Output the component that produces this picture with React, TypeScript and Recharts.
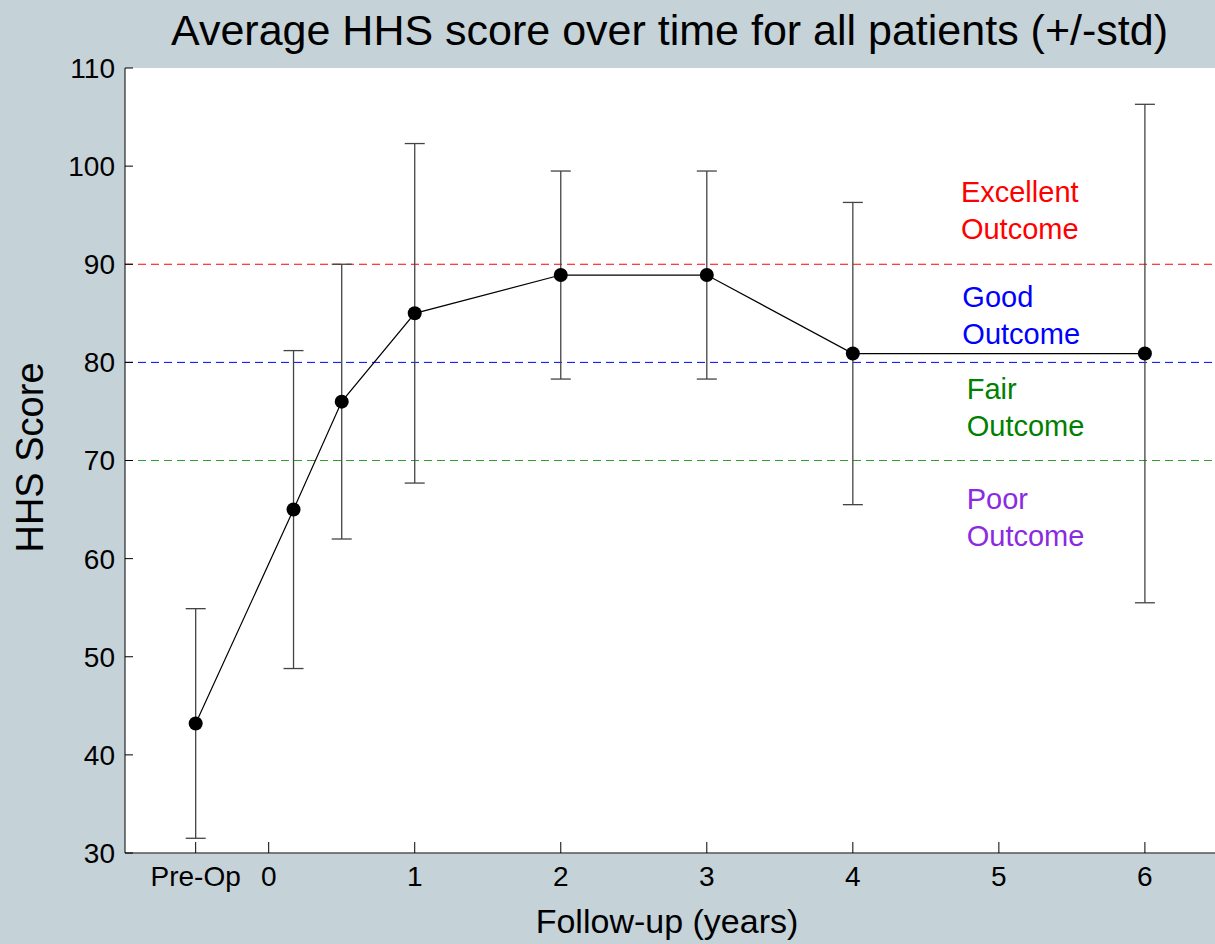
import {
  CartesianGrid,
  ErrorBar,
  Line,
  LineChart,
  ReferenceDot,
  ReferenceLine,
  XAxis,
  YAxis,
} from 'recharts';

// follow-up time in years (Pre-Op drawn at -0.5)
const followUp = [-0.5, 0.17, 0.5, 1, 2, 3, 4, 6];
const meanScore = [43.2, 65.0, 76.0, 85.0, 88.9, 88.9, 80.9, 80.9];
const stdScore = [11.7, 16.2, 14.0, 17.3, 10.6, 10.6, 15.4, 25.4];

const xTicks = [-0.5, 0, 1, 2, 3, 4, 5, 6];
const yTicks = [30, 40, 50, 60, 70, 80, 90, 100, 110];

const thresholds = [90, 80, 70];
const outcomeNames = ['Excellent', 'Good', 'Fair', 'Poor'];

const data = followUp.map((x, i) => ({
  x,
  mean: meanScore[i],
  std: stdScore[i],
}));

const FONT = '"Liberation Sans", Arial, sans-serif';
const BG = '#c5d2d8';
const lineColors = ['#ff0000', '#0000ff', '#2ca02c'];
const textColors = ['#ff0000', '#0000ff', '#008000', '#8a2be2'];
// where each outcome caption sits (data units)
const labelPos = [
  { x: 4.74, y: 96.3 },
  { x: 4.75, y: 85.6 },
  { x: 4.78, y: 76.3 },
  { x: 4.78, y: 65.1 },
];

const xLabel = (v: number) => (v === -0.5 ? 'Pre-Op' : `${v}`);

const XTick = (props: any) => {
  const { x, y, payload } = props;
  return (
    <g>
      <line x1={x} x2={x} y1={y - 13} y2={y - 24} stroke="#000" strokeWidth={1} />
      <text x={x} y={y} dy="0.71em" textAnchor="middle" fontSize={28} fill="#000" fontFamily={FONT}>
        {xLabel(payload.value)}
      </text>
    </g>
  );
};

const YTick = (props: any) => {
  const { x, y, payload } = props;
  return (
    <g>
      <line x1={x + 10} x2={x + 18} y1={y} y2={y} stroke="#000" strokeWidth={1} />
      <text x={x} y={y} dy="0.355em" textAnchor="end" fontSize={28} fill="#000" fontFamily={FONT}>
        {payload.value}
      </text>
    </g>
  );
};

const outcomeLabel = (i: number) => (props: any) => {
  const vb = props.viewBox || {};
  return (
    <text x={vb.x} y={vb.y} fill={textColors[i]} fontSize={29} fontFamily={FONT}>
      <tspan x={vb.x}>{outcomeNames[i]}</tspan>
      <tspan x={vb.x} dy={37}>
        Outcome
      </tspan>
    </text>
  );
};

export default function App() {
  return (
    <div
      style={{
        position: 'absolute',
        left: 0,
        top: 0,
        width: 1215,
        height: 944,
        background: BG,
        fontFamily: FONT,
        overflow: 'hidden',
      }}
    >
      <div
        style={{
          position: 'absolute',
          left: 0,
          top: 9,
          width: 1339,
          textAlign: 'center',
          fontSize: 43,
          lineHeight: '43px',
          color: '#000',
          whiteSpace: 'nowrap',
        }}
      >
        Average HHS score over time for all patients (+/-std)
      </div>
      <LineChart
        width={1215}
        height={944}
        data={data}
        margin={{ top: 68, right: 0, bottom: 0, left: 0 }}
      >
        <CartesianGrid fill="#ffffff" stroke="none" />
        <XAxis
          dataKey="x"
          type="number"
          domain={[-0.984, 6.48]}
          allowDataOverflow
          ticks={xTicks}
          interval={0}
          height={91}
          tickSize={0}
          tickMargin={13}
          tick={<XTick />}
          axisLine={{ stroke: '#555', strokeWidth: 1.5 }}
          label={(p: any) => {
            const vb = p.viewBox || {};
            return (
              <text
                x={vb.x + vb.width / 2 - 3}
                y={vb.y + vb.height - 11}
                textAnchor="middle"
                fontSize={34}
                fill="#000"
                fontFamily={FONT}
              >
                Follow-up (years)
              </text>
            );
          }}
        />
        <YAxis
          type="number"
          domain={[30, 110]}
          allowDataOverflow
          ticks={yTicks}
          interval={0}
          width={125}
          tickSize={0}
          tickMargin={10}
          tick={<YTick />}
          axisLine={{ stroke: '#000', strokeWidth: 1 }}
          label={(p: any) => {
            const vb = p.viewBox || {};
            const cx = vb.x + 43;
            const cy = vb.y + vb.height / 2 - 3;
            return (
              <text
                x={cx}
                y={cy}
                textAnchor="middle"
                fontSize={38}
                fill="#000"
                fontFamily={FONT}
                transform={`rotate(-90, ${cx}, ${cy})`}
              >
                HHS Score
              </text>
            );
          }}
        />
        {thresholds.map((t, i) => (
          <ReferenceLine
            key={t}
            y={t}
            stroke={lineColors[i]}
            strokeDasharray="8 5"
            strokeWidth={1}
          />
        ))}
        {outcomeNames.map((n, i) => (
          <ReferenceDot
            key={n}
            x={labelPos[i].x}
            y={labelPos[i].y}
            r={0}
            fill="none"
            stroke="none"
            label={outcomeLabel(i)}
          />
        ))}
        <Line
          dataKey="mean"
          type="linear"
          stroke="#000"
          strokeWidth={1.2}
          dot={{ r: 7, fill: '#000', stroke: 'none' }}
          activeDot={false}
          isAnimationActive={false}
        >
          <ErrorBar dataKey="std" direction="y" width={10} stroke="#444" strokeWidth={1.3} />
        </Line>
      </LineChart>
    </div>
  );
}
